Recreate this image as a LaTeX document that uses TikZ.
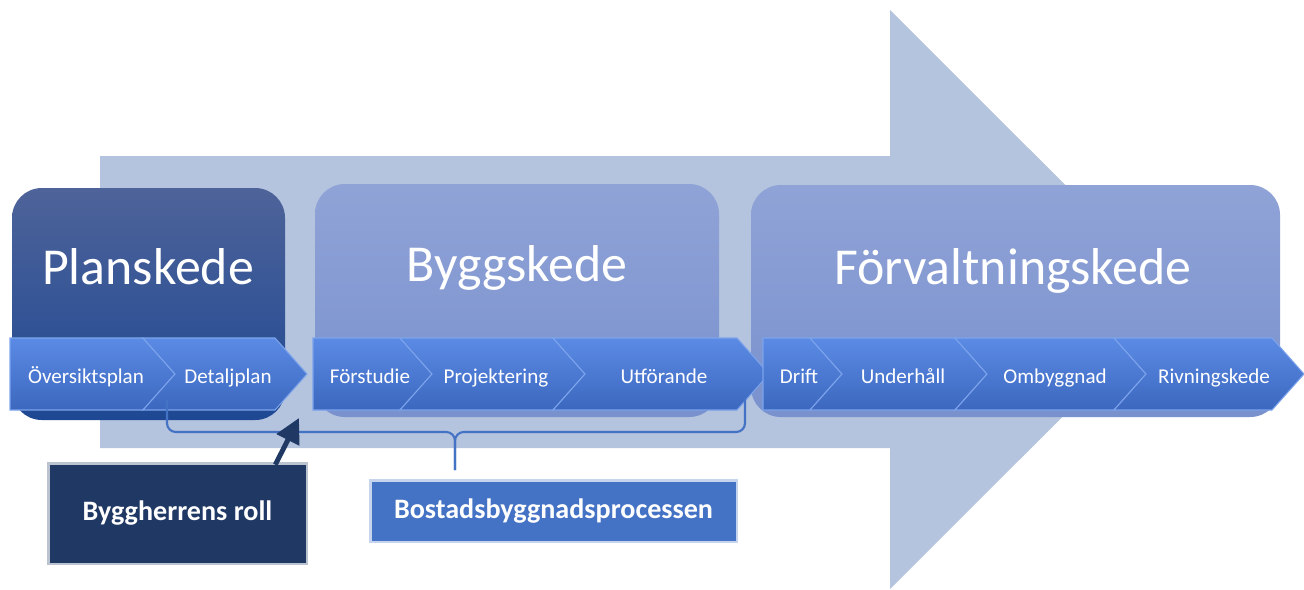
\documentclass[tikz,border=0pt]{standalone}
\usepackage{fontspec}
\setmainfont{Carlito}
\usepackage{tikz}
\usetikzlibrary{
  arrows.meta,
  positioning,
  calc,
}
\definecolor{arrowgray}{HTML}{B4C3DE}
\definecolor{plantop}{HTML}{4E6399}
\definecolor{planbot}{HTML}{1E4893}
\definecolor{phasetop}{HTML}{90A3D7}
\definecolor{phasebot}{HTML}{7991CD}
\definecolor{chevtop}{HTML}{5B8BE5}
\definecolor{chevbot}{HTML}{3C67BE}
\definecolor{chevline}{HTML}{7CA4EC}
\definecolor{rolenavy}{HTML}{1F3864}
\definecolor{procblue}{HTML}{4472C4}

\tikzset{
  phasebox/.style={rounded corners=17pt, top color=phasetop, bottom color=phasebot},
  phasetitle/.style={text=white, anchor=base, font=\fontsize{29.5}{34}\selectfont},
  chevfill/.style={top color=chevtop, bottom color=chevbot, draw=chevline, line width=0.6pt},
  chevlabel/.style={text=white, anchor=base, inner sep=0pt, font=\fontsize{12}{14}\selectfont},
  tagbox/.style={text=white, font=\bfseries\fontsize{16}{19}\selectfont,
    preaction={draw, line width=3pt, draw opacity=0.3}},
}

% chevron with a notch, from #1 to shoulder #2
\newcommand{\chevnotch}[2]{%
  \path[chevfill] (#1,338) -- (#2,338) -- (#2+32,374) -- (#2,410) -- (#1,410) -- (#1+32,374) -- cycle;}
% first chevron of a phase, flat left end
\newcommand{\chevflat}[2]{%
  \path[chevfill] (#1,338) -- (#2,338) -- (#2+32,374) -- (#2,410) -- (#1,410) -- cycle;}

\begin{document}
\begin{tikzpicture}[x=0.02cm, y=-0.02cm]
  \useasboundingbox (0,0) rectangle (1304,589);
  % big background arrow
  \fill[arrowgray] (100,156) -- (890,156) -- (890,10) -- (1180,299.5)
    -- (890,589) -- (890,448) -- (100,448) -- cycle;
  % phase boxes
  \path[rounded corners=17pt, top color=plantop, bottom color=planbot]
    (12,188) rectangle (285,420);
  \path[phasebox] (315,184) rectangle (719,417);
  \path[phasebox] (751,185) rectangle (1280,417);
  % chevrons
  \chevflat{10}{143}
  \chevnotch{143}{275}
  \chevflat{313}{400}
  \foreach \l/\r in {400/553, 553/737}
    \chevnotch{\l}{\r};
  \chevflat{763}{810}
  \foreach \l/\r in {810/955, 955/1114, 1114/1272}
    \chevnotch{\l}{\r};
  % phase titles
  \node[phasetitle] (plan) at (148,284) {Planskede};
  \node[phasetitle] (bygg) at (517,281) {Byggskede};
  \node[phasetitle] (forv) at (1013,284) {Förvaltningskede};
  % step labels
  \node[chevlabel] (oversikt) at (86,383) {Översiktsplan};
  \node[chevlabel] (detalj) at (228,383) {Detaljplan};
  \node[chevlabel] (forstudie) at (370,383) {Förstudie};
  \node[chevlabel] (projekt) at (496,383) {Projektering};
  \node[chevlabel] (utfor) at (664,383) {Utförande};
  \node[chevlabel] (drift) at (799,383) {Drift};
  \node[chevlabel] (underhall) at (903,383) {Underhåll};
  \node[chevlabel] (ombygg) at (1055,383) {Ombyggnad};
  \node[chevlabel] (rivning) at (1214,383) {Rivningskede};
  % tags below
  \node[tagbox, fill=rolenavy, draw=rolenavy, minimum width=5.1cm, minimum height=1.94cm]
    (roll) at (177.5,513.5) {Byggherrens roll};
  \node[tagbox, fill=procblue, draw=procblue, minimum width=7.26cm, minimum height=1.16cm]
    (process) at (553.5,511) {Bostadsbyggnadsprocessen};
  % brace over the process
  \coordinate (braceleft) at (167,400);
  \coordinate (braceright) at (745,398);
  \coordinate (bracemid) at (455,432);
  \coordinate (bracefoot) at (455,470);
  \draw[procblue, line width=1.2pt, rounded corners=5pt]
    (braceleft) |- (bracemid) -- (bracefoot);
  \draw[procblue, line width=1.2pt, rounded corners=5pt]
    (braceright) |- (bracemid) -- (bracefoot);
  % role arrow
  \coordinate (rolegap) at (299,418);
  \draw[rolenavy, line width=2.8pt, -{Triangle[length=14pt,width=14pt]}]
    ($(roll.north east)+(-30,0)$) -- (rolegap);
\end{tikzpicture}
\end{document}
